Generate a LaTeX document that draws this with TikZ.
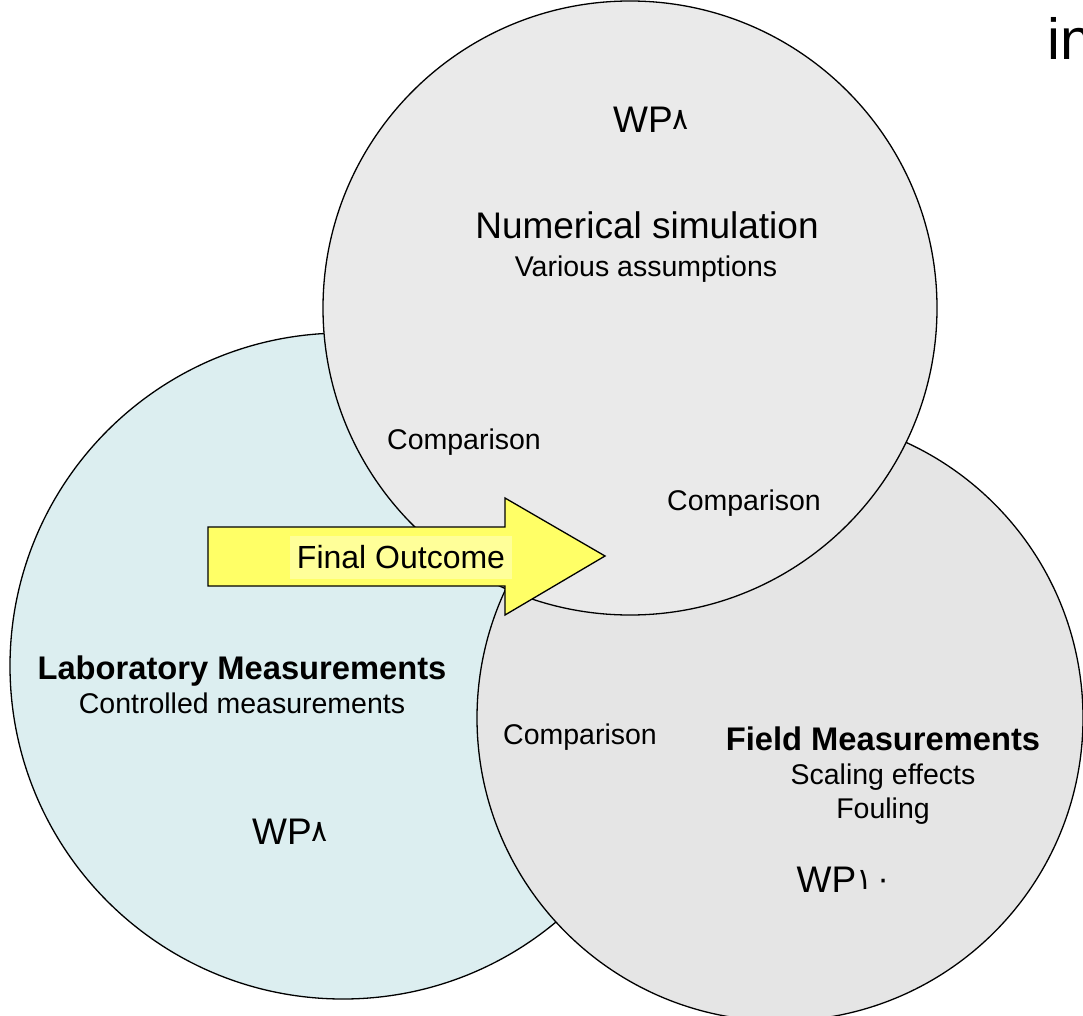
\documentclass[tikz,border=0pt]{standalone}
\usepackage{fontspec}
\setmainfont{Liberation Sans}
\newfontfamily\digitfont{DejaVu Sans}
\definecolor{labfill}{HTML}{DCEEF0}
\definecolor{numfill}{HTML}{EAEAEA}
\definecolor{fieldfill}{HTML}{E5E5E5}
\definecolor{arrowfill}{HTML}{FFFF66}
\definecolor{labelfill}{HTML}{FFFF99}
\newcommand{\fsz}[1]{\fontsize{#1}{#1}\selectfont}
\newcommand{\ardig}[1]{{\digitfont\fontsize{30}{30}\selectfont\raisebox{3pt}{#1}}}
\begin{document}
\begin{tikzpicture}[x=1pt,y=-1pt,
  venn/.style={circle, draw=black, line width=1.3pt, inner sep=0pt},
  txt/.style={anchor=base, inner sep=0pt, font=\fsz{28.5}},
  bold/.style={anchor=base, inner sep=0pt, font=\fsz{32.7}\bfseries},
  big/.style={anchor=base, inner sep=0pt, font=\fsz{37}}]
\useasboundingbox (0,0) rectangle (1083,1016);
% circles
\node[venn, fill=labfill, minimum size=666pt] (lab) at (343,666) {};
\node[venn, fill=fieldfill, minimum size=606pt] (field) at (780,718) {};
\node[venn, fill=numfill, minimum size=614pt] (num) at (630,308) {};
% arrow
\draw[line width=1.3pt, fill=arrowfill, line join=miter]
  (208,527) -- (505,527) -- (505,498) -- (605,556) -- (505,615) -- (505,586) -- (208,586) -- cycle;
\node[fill=labelfill, minimum width=222pt, minimum height=43pt, inner sep=0pt, font=\fsz{32}] (outcome) at (401,557.5) {Final Outcome};
% numerical simulation
\node[big] (wpnum) at (651,133) {WP\ardig{٨}};
\node[big] (numtitle) at (647,239) {Numerical simulation};
\node[txt] (numsub) at (646,276) {Various assumptions};
% comparisons
\node[txt] (cmp1) at (464,449) {Comparison};
\node[txt] (cmp2) at (744,510) {Comparison};
\node[txt] (cmp3) at (580,744) {Comparison};
% laboratory
\node[bold] (labtitle) at (242,679) {Laboratory Measurements};
\node[txt] (labsub) at (242,713) {Controlled measurements};
\node[big] (wplab) at (290,844) {WP\ardig{٨}};
% field
\node[big] (wpfield) at (844,892) {WP\ardig{١\kern3pt٠}};
\node[bold] (fieldtitle) at (883,750) {Field Measurements};
\node[txt] (fieldsub1) at (883,784) {Scaling effects};
\node[txt] (fieldsub2) at (883,818) {Fouling};
% cut-off title
\node[anchor=base west, inner sep=0pt, font=\fsz{58}] (title) at (1047,60) {in};
\end{tikzpicture}
\end{document}
